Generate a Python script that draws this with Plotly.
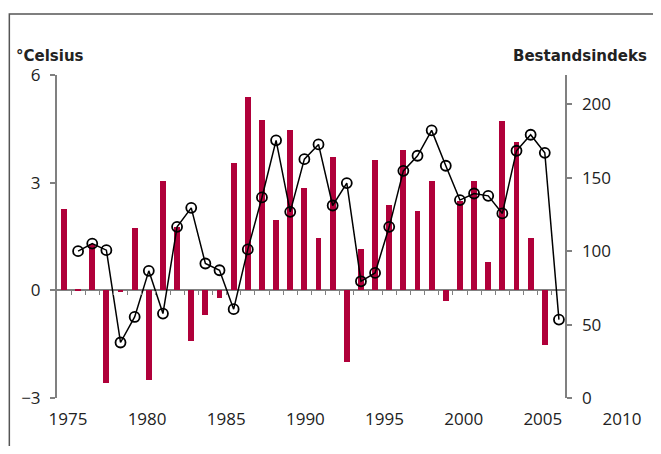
import plotly.graph_objects as go

# ---- data ----
temp_years = list(range(1972, 2007))
temp_anomaly = [2.26, 0.03, 1.28, -2.57, -0.06, 1.75, -2.51, 3.06, 1.76, -1.41,
                -0.68, -0.21, 3.56, 5.39, 4.75, 1.95, 4.46, 2.85, 1.46, 3.72,
                -2.01, 1.15, 3.62, 2.39, 3.92, 2.22, 3.05, -0.31, 2.5, 3.06,
                0.79, 4.72, 4.12, 1.46, -1.53]
index_years = list(range(1973, 2008))
stock_index = [100.0, 105.2, 100.7, 37.8, 55.2, 86.6, 57.5, 116.6, 129.5, 91.6,
               87.0, 60.5, 101.2, 136.6, 175.5, 126.8, 162.7, 172.7, 131.1, 146.4,
               79.5, 85.2, 116.6, 154.7, 165.0, 182.3, 158.2, 134.8, 139.3, 137.7,
               125.7, 168.4, 179.3, 167.0, 53.4]
label_years = [1975, 1980, 1985, 1990, 1995, 2000, 2005, 2010]
left_ticks = [-3, 0, 3, 6]
right_ticks = [0, 50, 100, 150, 200]

# ---- layout geometry (screen pixels; page body has an 8px margin) ----
OFF = 8
W, H = 661 - 2 * OFF, 454 - 2 * OFF
plot_left, plot_right = 57, 640        # screen px
plot_top, plot_bottom = 75, 398        # screen px
L = plot_left - OFF
R = W - (plot_right - OFF)
T = plot_top - OFF
B = H - (plot_bottom - OFF)
plot_w = plot_right - plot_left
plot_h = plot_bottom - plot_top
right_axis_px = 570
data_dom = (right_axis_px - plot_left) / plot_w
px_per_year = 14.24
data_start = temp_years[0] - (64 - plot_left) / px_per_year
data_end = data_start + (right_axis_px - plot_left) / px_per_year
lab_px_per_year = 15.94
lab_start = label_years[0] - (68 - plot_left) / lab_px_per_year
lab_end = lab_start + plot_w / lab_px_per_year

def px_x(p):
    return (p - plot_left) / plot_w

def px_y(p):
    return (plot_bottom - p) / plot_h

GRAY = "#808080"
TXT = "#222222"
tick_font = dict(family="Open Sans", size=17, color=TXT)

fig = go.Figure()
fig.add_trace(go.Bar(x=temp_years, y=temp_anomaly, width=0.42,
                     marker=dict(color="#B0003A", line=dict(width=0)),
                     xaxis="x", yaxis="y", showlegend=False))
fig.add_trace(go.Scatter(x=index_years, y=stock_index, mode="lines+markers",
                         line=dict(color="black", width=1.5),
                         marker=dict(symbol="circle-open", size=10, color="black",
                                     line=dict(width=1.8, color="black")),
                         xaxis="x", yaxis="y2", showlegend=False))
# invisible trace to carry the label axis
fig.add_trace(go.Scatter(x=label_years, y=[None] * len(label_years), mode="markers",
                         xaxis="x2", yaxis="y3", showlegend=False, hoverinfo="skip"))

boundaries = [y + 0.5 for y in temp_years]

fig.update_layout(
    width=W, height=H,
    margin=dict(l=L, r=R, t=T, b=B, pad=0),
    paper_bgcolor="white", plot_bgcolor="rgba(0,0,0,0)",
    bargap=0,
    xaxis=dict(domain=[0, data_dom], range=[data_start, data_end],
               anchor="free", position=3 / 9,
               showline=False, showgrid=False, zeroline=False,
               tickmode="array", tickvals=boundaries, ticks="outside",
               ticklen=4, tickwidth=1, tickcolor=GRAY, showticklabels=False),
    yaxis=dict(domain=[0, 1], range=[-3, 6], anchor="x",
               tickmode="array", tickvals=left_ticks,
               showline=True, linecolor=GRAY, linewidth=2,
               ticks="outside", ticklen=5, tickwidth=1.5, tickcolor=GRAY,
               ticklabelstandoff=6,
               showgrid=False, zeroline=True, zerolinecolor=GRAY, zerolinewidth=2,
               tickfont=tick_font),
    yaxis2=dict(range=[0, 220], overlaying="y", anchor="free", position=data_dom,
                side="right", tickmode="array", tickvals=right_ticks,
                showline=True, linecolor=GRAY, linewidth=2,
                ticks="outside", ticklen=5, tickwidth=1.5, tickcolor=GRAY,
                ticklabelstandoff=6,
                showgrid=False, zeroline=False, tickfont=tick_font),
    xaxis2=dict(domain=[0, 1], range=[lab_start, lab_end], anchor="y3",
                tickmode="array", tickvals=label_years,
                showline=False, showgrid=False, zeroline=False,
                ticks="outside", ticklen=6, tickcolor="rgba(0,0,0,0)",
                tickfont=tick_font),
    yaxis3=dict(domain=[0, 1], range=[0, 1], visible=False, showgrid=False,
                zeroline=False),
    font=dict(family="Open Sans", color=TXT),
)

fig.add_annotation(text="°Celsius", xref="paper", yref="paper",
                   x=px_x(14), y=px_y(56), xanchor="left", yanchor="middle",
                   showarrow=False,
                   font=dict(family="DejaVu Sans", size=15, color=TXT, weight="bold"))
fig.add_annotation(text="Bestandsindeks", xref="paper", yref="paper",
                   x=px_x(653), y=px_y(56), xanchor="right", yanchor="middle",
                   showarrow=False,
                   font=dict(family="DejaVu Sans", size=15, color=TXT, weight="bold"))

# outer frame (cut off at right and bottom)
fig.add_shape(type="path", xref="paper", yref="paper",
              path=f"M {px_x(9)} {px_y(480)} L {px_x(9)} {px_y(14)} L {px_x(700)} {px_y(14)}",
              line=dict(color="#555555", width=1.5))

fig.write_html("out.html")
